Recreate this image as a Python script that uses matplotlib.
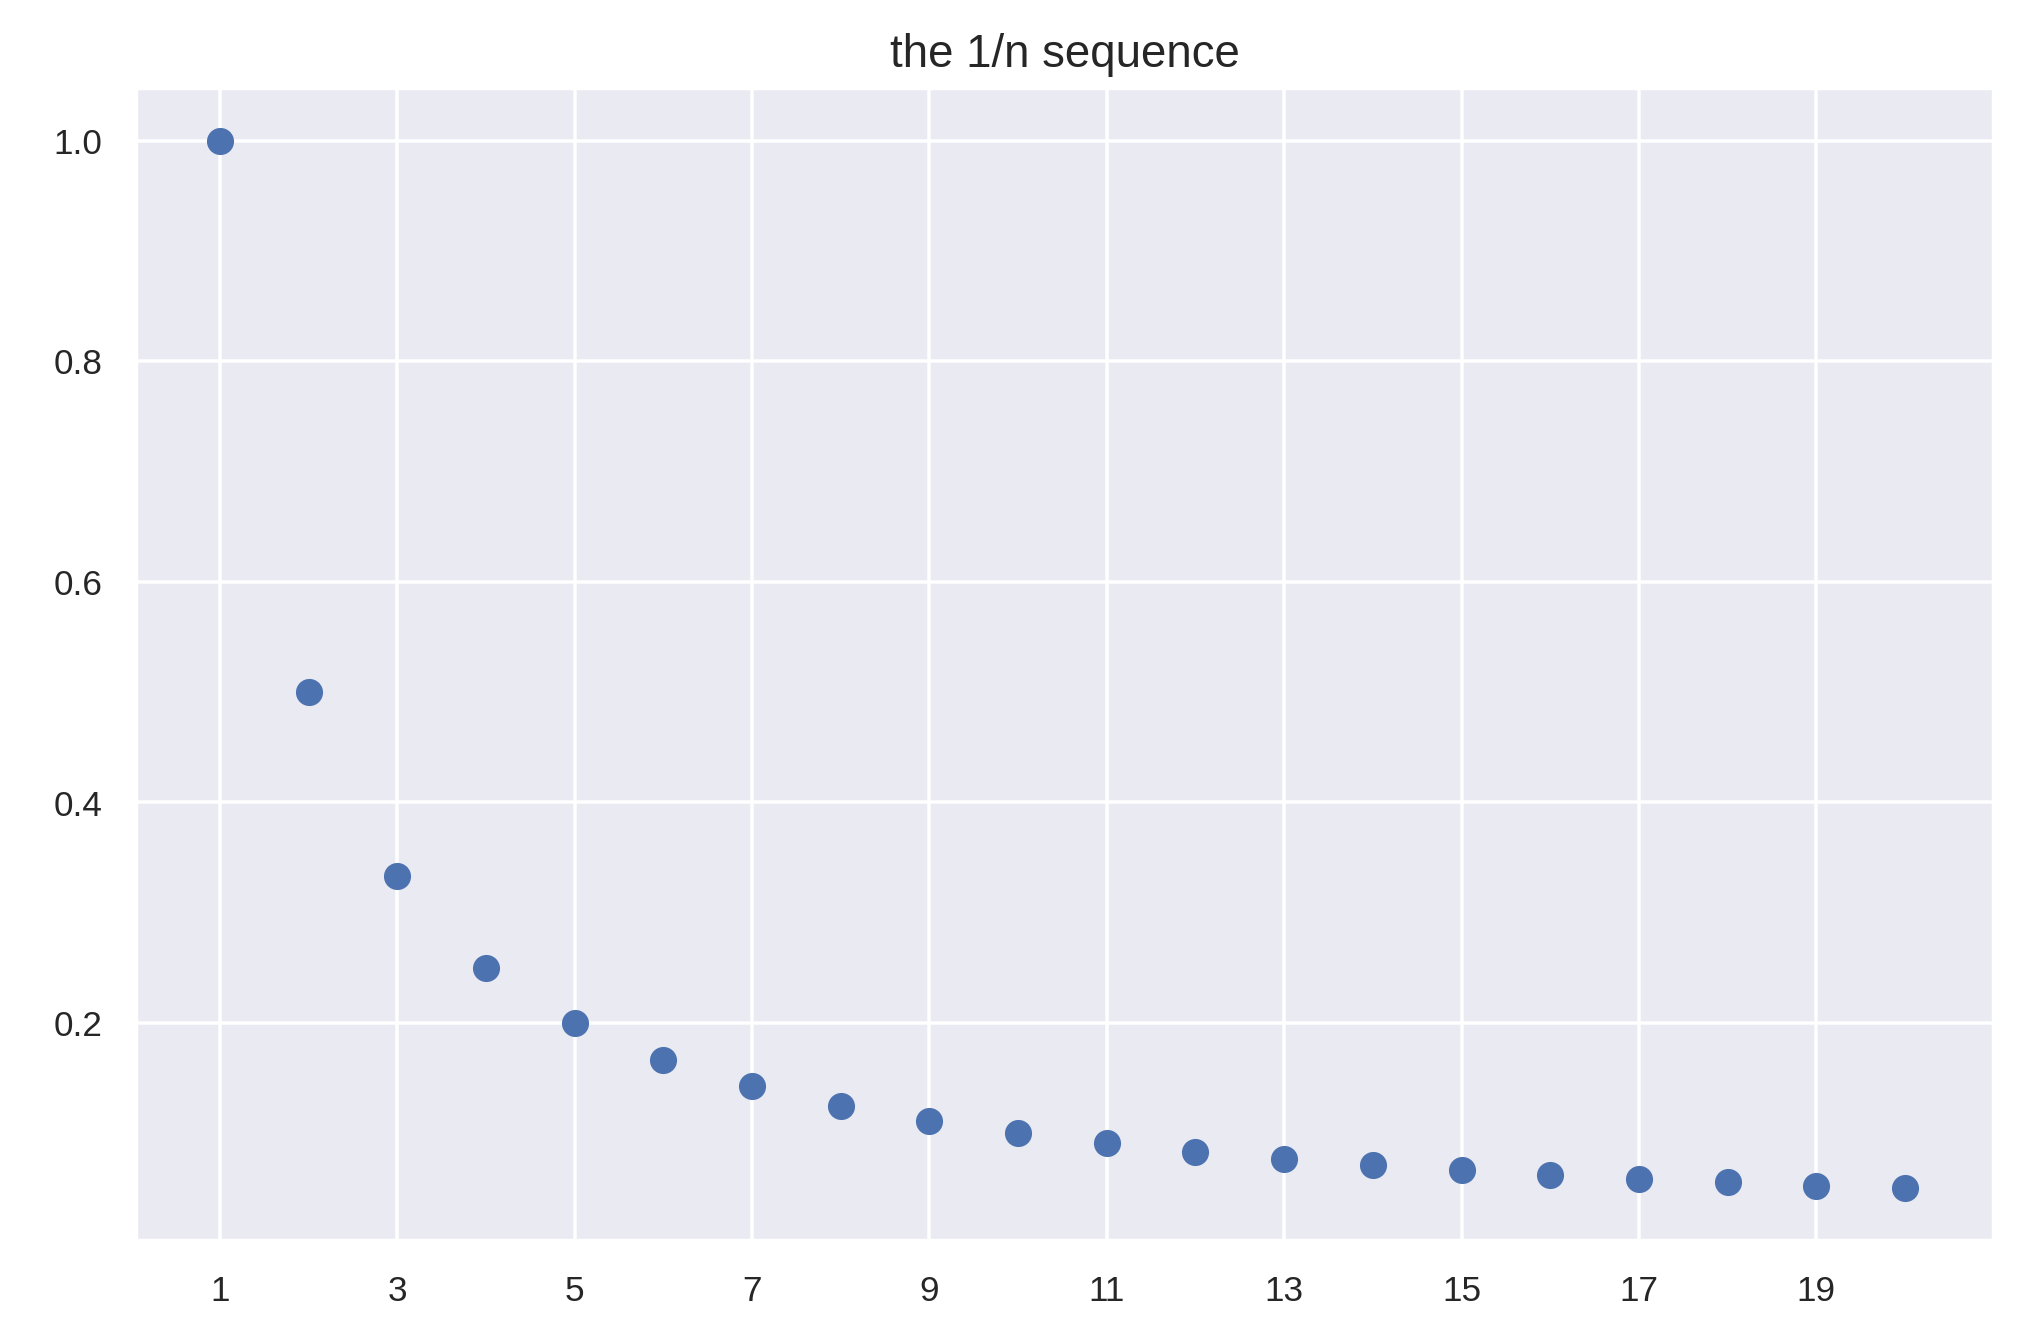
import matplotlib
matplotlib.use("Agg")
import matplotlib.pyplot as plt
import seaborn as sns

sns.set_theme(style="darkgrid")
plt.rcParams['font.family'] = ['Liberation Sans', 'DejaVu Sans']

n = list(range(1, 21))
values = [1.0, 0.5, 0.3333, 0.25, 0.2, 0.1667, 0.1429, 0.125, 0.1111, 0.1,
          0.0909, 0.0833, 0.0769, 0.0714, 0.0667, 0.0625, 0.0588, 0.0556,
          0.0526, 0.05]
xticks = list(range(1, 21, 2))

fig = plt.figure(figsize=(8, 5.265), dpi=253)
ax = fig.add_axes([0.067, 0.068, 0.918, 0.866])
ax.scatter(n, values, s=45, color="#4c72b0", zorder=3)
ax.set_xticks(xticks)
ax.set_yticks([0.2, 0.4, 0.6, 0.8, 1.0])
ax.set_xlim(0.05, 21.0)
ax.set_ylim(0.002, 1.048)
ax.tick_params(labelsize=10)
ax.set_title("the 1/n sequence", fontsize=13)

fig.savefig("out.png", dpi=253)
